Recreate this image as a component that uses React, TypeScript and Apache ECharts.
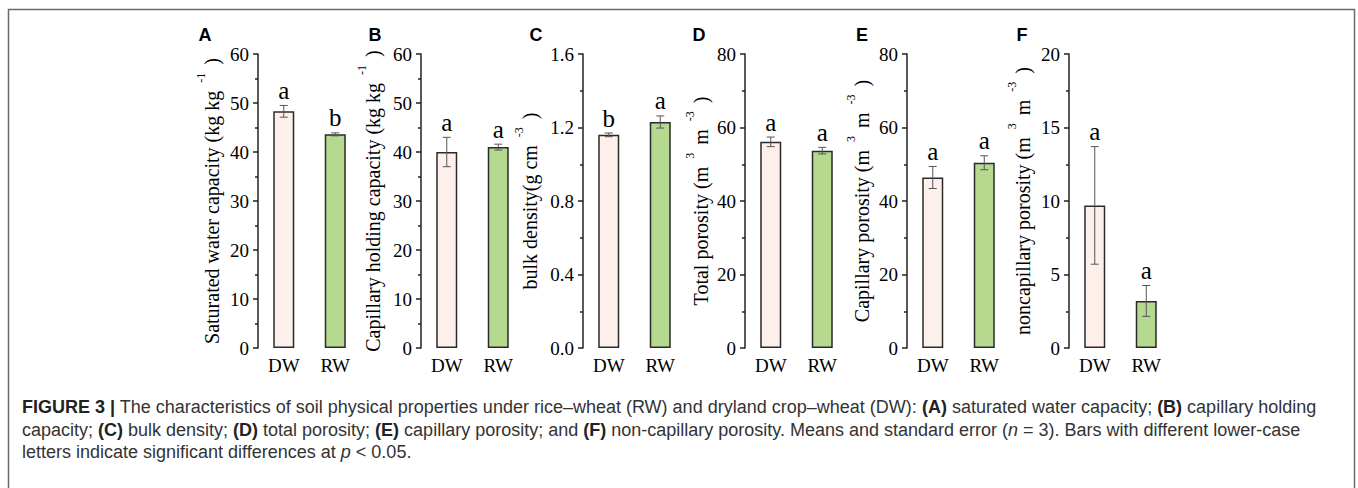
import React, { useEffect, useRef } from 'react';
import * as echarts from 'echarts';

const categories = ['DW', 'RW'];
const panelLetters = ['A', 'B', 'C', 'D', 'E', 'F'];

const saturatedWater = [48.3, 43.6];
const saturatedWaterErr = [1.2, 0.3];
const saturatedWaterSig = ['a', 'b'];

const capillaryHolding = [40.0, 41.0];
const capillaryHoldingErr = [3.0, 0.6];
const capillaryHoldingSig = ['a', 'a'];

const bulkDensity = [1.16, 1.23];
const bulkDensityErr = [0.01, 0.033];
const bulkDensitySig = ['b', 'a'];

const totalPorosity = [56.1, 53.7];
const totalPorosityErr = [1.3, 0.9];
const totalPorositySig = ['a', 'a'];

const capillaryPorosity = [46.4, 50.4];
const capillaryPorosityErr = [3.0, 1.9];
const capillaryPorositySig = ['a', 'a'];

const noncapillaryPorosity = [9.7, 3.2];
const noncapillaryPorosityErr = [4.0, 1.05];
const noncapillaryPorositySig = ['a', 'a'];

const yNames = [
  'Saturated water capacity (kg kg{s|-1})',
  'Capillary holding capacity (kg kg{s|-1})',
  'bulk density(g cm{s|-3})',
  'Total porosity (m{s|3}m{s|-3})',
  'Capillary porosity (m{s|3}m{s|-3})',
  'noncapillary porosity (m{s|3}m{s|-3})',
];
const yMax = [60, 60, 1.6, 80, 80, 20];
const yInterval = [10, 10, 0.4, 20, 20, 5];
const yDecimals = [0, 0, 1, 0, 0, 0];

const captionLines = [
  '{b|FIGURE 3 |} The characteristics of soil physical properties under rice\u2013wheat (RW) and dryland crop\u2013wheat (DW): {b|(A)} saturated water capacity; {b|(B)} capillary holding',
  'capacity; {b|(C)} bulk density; {b|(D)} total porosity; {b|(E)} capillary porosity; and {b|(F)} non-capillary porosity. Means and standard error ({i|n} = 3). Bars with different lower-case',
  'letters indicate significant differences at {i|p} < 0.05.',
];

const panels = [
  { mean: saturatedWater, err: saturatedWaterErr, sig: saturatedWaterSig },
  { mean: capillaryHolding, err: capillaryHoldingErr, sig: capillaryHoldingSig },
  { mean: bulkDensity, err: bulkDensityErr, sig: bulkDensitySig },
  { mean: totalPorosity, err: totalPorosityErr, sig: totalPorositySig },
  { mean: capillaryPorosity, err: capillaryPorosityErr, sig: capillaryPorositySig },
  { mean: noncapillaryPorosity, err: noncapillaryPorosityErr, sig: noncapillaryPorositySig },
];

const gridLefts = [258, 421, 583, 745, 907, 1069];
const nameGaps = [29, 31, 36, 27, 28, 29];
const letterX = [205, 375, 536, 699, 862, 1022];
const barColors = ['#FDF0EA', '#B4D98F'];
const SERIF = 'Liberation Serif';
const SANS = 'Liberation Sans';

export default function App() {
  const ref = useRef<HTMLDivElement>(null);
  useEffect(() => {
    document.body.style.margin = '0';
    const chart = echarts.init(ref.current!, undefined, { renderer: 'svg' });
    const grid: any[] = [];
    const xAxis: any[] = [];
    const yAxis: any[] = [];
    const series: any[] = [];
    panels.forEach((p, k) => {
      grid.push({ left: gridLefts[k], top: 54, width: 103, height: 294 });
      xAxis.push({
        type: 'category', gridIndex: k, data: categories,
        axisLine: { show: false }, axisTick: { show: false },
        axisLabel: { fontFamily: SERIF, fontSize: 19, color: '#000', margin: 8 },
      });
      yAxis.push({
        type: 'value', gridIndex: k, min: 0, max: yMax[k], interval: yInterval[k],
        name: yNames[k], nameLocation: 'middle', nameGap: nameGaps[k], nameRotate: 90,
        nameTextStyle: {
          fontFamily: SERIF, fontSize: 20, color: '#000',
          rich: { s: { fontFamily: SERIF, fontSize: 12, color: '#000', verticalAlign: 'top', lineHeight: 34, padding: [0, 8, 0, 8] } },
        },
        axisLine: { show: true, lineStyle: { color: '#222', width: 1.5 } },
        axisTick: { show: true, inside: false, length: 5, lineStyle: { color: '#222', width: 1.5 } },
        minorTick: { show: true, splitNumber: 2, length: 3, lineStyle: { color: '#222', width: 1.5 } },
        splitLine: { show: false },
        axisLabel: {
          fontFamily: SERIF, fontSize: 19, color: '#000', margin: 9,
          formatter: (v: number) => v.toFixed(yDecimals[k]),
        },
      });
      series.push({
        type: 'bar', xAxisIndex: k, yAxisIndex: k, barWidth: 21,
        data: p.mean.map((v, i) => ({
          value: v,
          itemStyle: { color: barColors[i], borderColor: '#2a2a2a', borderWidth: 1.5 },
        })),
      });
      series.push({
        type: 'custom', xAxisIndex: k, yAxisIndex: k, z: 5, clip: false,
        encode: { x: 0, y: 1 },
        data: p.mean.map((v, i) => [i, v, p.err[i]]),
        renderItem: (params: any, api: any) => {
          const i = params.dataIndex;
          const x = api.value(0);
          const m = api.value(1);
          const e = api.value(2);
          const top = api.coord([x, m + e]);
          const bot = api.coord([x, m - e]);
          const cap = 4;
          const st = { stroke: '#555', lineWidth: 1 };
          return {
            type: 'group',
            children: [
              { type: 'line', shape: { x1: top[0], y1: top[1], x2: bot[0], y2: bot[1] }, style: st },
              { type: 'line', shape: { x1: top[0] - cap, y1: top[1], x2: top[0] + cap, y2: top[1] }, style: st },
              { type: 'line', shape: { x1: bot[0] - cap, y1: bot[1], x2: bot[0] + cap, y2: bot[1] }, style: st },
              {
                type: 'text', x: top[0], y: top[1] - 15,
                style: { text: p.sig[i], fontFamily: SERIF, fontSize: 25, fill: '#000', align: 'center', verticalAlign: 'middle' },
              },
            ],
          };
        },
      });
    });

    const graphic: any[] = [
      {
        type: 'rect', shape: { x: 8.5, y: 9.5, width: 1346, height: 500 },
        style: { fill: 'none', stroke: '#6a6a6a', lineWidth: 1.5 }, silent: true,
      },
    ];
    panelLetters.forEach((l, k) => {
      graphic.push({
        type: 'text', x: letterX[k], y: 35,
        style: { text: l, fontFamily: SANS, fontWeight: 'bold', fontSize: 18, fill: '#000', align: 'center', verticalAlign: 'middle' },
      });
    });
    captionLines.forEach((t, j) => {
      graphic.push({
        type: 'text', x: 22, y: 407 + j * 22.5,
        style: {
          text: t, fontFamily: SANS, fontSize: 18, fill: '#333', align: 'left', verticalAlign: 'middle',
          rich: {
            b: { fontFamily: SANS, fontSize: 18, fontWeight: 'bold', fill: '#222' },
            i: { fontFamily: SANS, fontSize: 18, fontStyle: 'italic', fill: '#333' },
          },
        },
      });
    });

    chart.setOption({
      animation: false,
      backgroundColor: '#fff',
      grid, xAxis, yAxis, series, graphic,
    });
    return () => chart.dispose();
  }, []);
  return <div ref={ref} style={{ width: 1358, height: 488 }} />;
}
